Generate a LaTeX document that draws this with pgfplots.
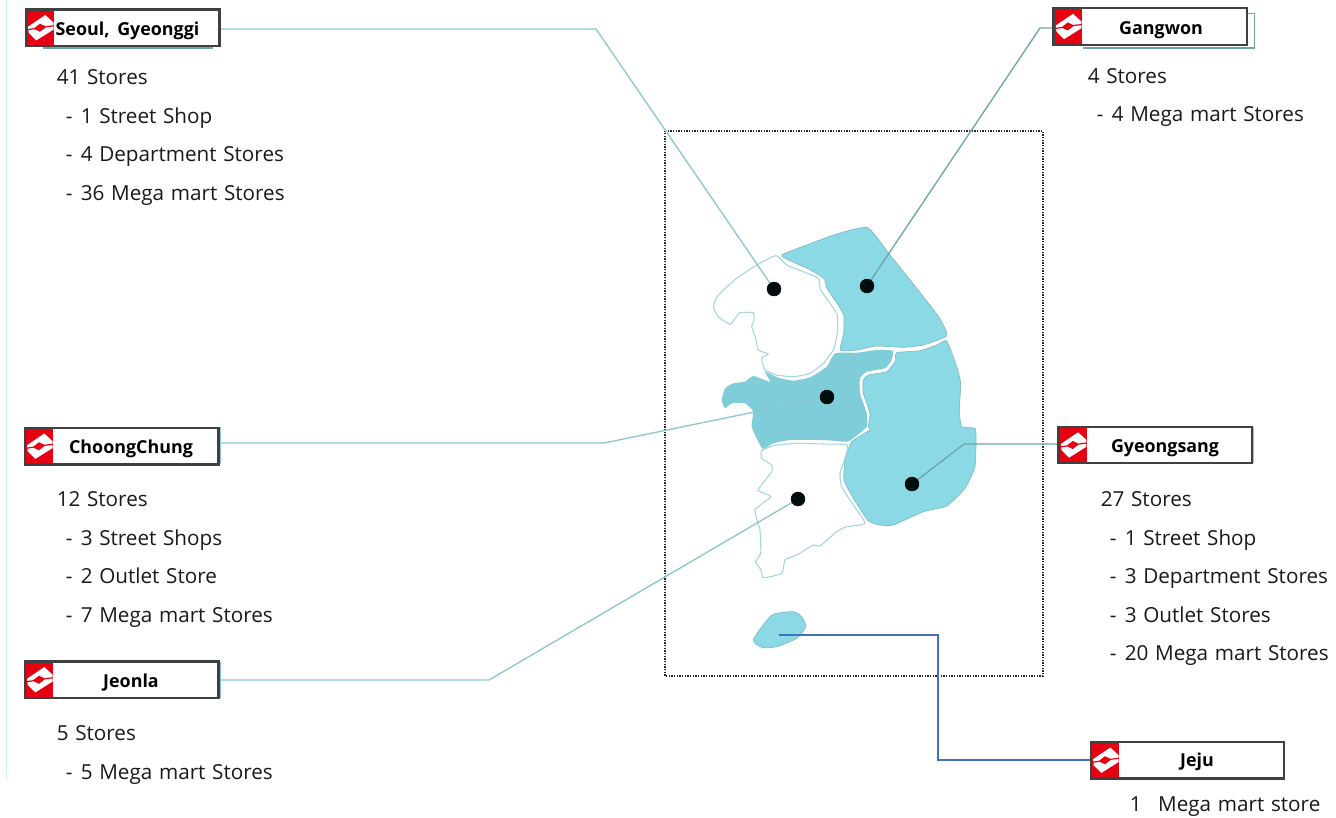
\documentclass[border=0pt]{standalone}
\usepackage{pgfplots}
\pgfplotsset{compat=1.18}
\usepackage{fontspec}
\setmainfont[WordSpace=1.25]{Open Sans}
\definecolor{teal1}{HTML}{8CD9E6}
\definecolor{teal2}{HTML}{80CDDA}
\definecolor{edge}{HTML}{7DBAC6}
\definecolor{edgew}{HTML}{A4D6DE}
\definecolor{leader}{HTML}{8CC6D0}
\definecolor{leader2}{HTML}{6FA5AD}
\definecolor{boxedge}{HTML}{404040}
\definecolor{lotred}{HTML}{E60012}
\newcommand{\btxt}[3]{\node[anchor=base west,inner sep=0pt,font=\fontsize{15.5pt}{18pt}\selectfont,text=black!90] at (#1,#2) {#3};}
\newcommand{\subtxt}[3]{\node[anchor=base west,inner sep=0pt,font=\fontsize{15.5pt}{18pt}\selectfont,text=black!90] at (#1,#2) {-};\node[anchor=base west,inner sep=0pt,font=\fontsize{15.5pt}{18pt}\selectfont,text=black!90] at (#1+15,#2) {#3};}
\newcommand{\labelbox}[6]{% left top right bottom redright
\fill[white] (#1,#2) rectangle (#3,#4);
\fill[lotred] (#1,#2) rectangle (#5,#4);
\draw[boxedge,line width=1.7pt] (#1,#2) rectangle (#3,#4);
\begin{scope}[shift={({(#1+#5)/2},{(#2+#4)/2})}]
\fill[white] (-12,-1) -- (5.3,-12.7) -- (13.7,-5) -- (13.7,1.7) -- (-3.7,12.7) -- (-11.3,5) -- cycle;
\fill[lotred] (-6.5,1) -- (0,-4) -- (6.5,-1) -- (0,4) -- cycle;
\draw[lotred,line width=0.9pt] (-12.5,2) -- (-6,1);
\draw[lotred,line width=0.9pt] (14,-2) -- (6,-1);
\end{scope}
\node[font=\fontsize{13.4pt}{16pt}\selectfont\bfseries,anchor=base,inner sep=0pt] at (#6) {\labeltext};}
\begin{document}
\begin{tikzpicture}
\begin{axis}[
  at={(0,0)},anchor=south west,
  scale only axis,width=1002pt,height=612.75pt,
  xmin=0,xmax=1336,ymin=0,ymax=817,y dir=reverse,
  axis lines=none,clip=true]
\addplot[draw=none,fill=white] coordinates {(0,0)(1336,0)(1336,817)(0,817)} -- cycle;
% left rule
\addplot[color=cyan!20,line width=0.9pt] coordinates {(6.5,0)(6.5,780)};
% frame
\addplot[black!85,line width=0.8pt,dash pattern=on 0.9pt off 1.1pt] coordinates {(665,131)(1043,131)(1043,676)(665,676)(665,131)};
% Gangwon
\addplot[draw=edge,fill=teal1,line width=0.5pt,smooth cycle,tension=0.3] coordinates {
(781.7,255)(806.7,245)(836.7,234)(867.7,227.7)(890,255)(916.7,288.3)(935,311.7)(941.7,321.7)(946.7,336)
(923.3,345)(903.3,347.3)(876.7,346)(856.7,350)(840.3,350)(843.7,333.3)(843.7,315)(837,303.3)(827,288.3)(823.7,278.3)(808.7,269)(790,260.7)};
% Seoul, Gyeonggi
\addplot[draw=edgew,fill=white,line width=0.8pt,smooth cycle,tension=0.3] coordinates {
(776,255.7)(756.7,265)(736.7,278.3)(718.3,295)(713.3,306.7)(718.3,316.7)(730,324.3)(735,318.3)(740,312.7)(753.3,312.7)(754,320)(751.7,326.7)(755.7,338.3)(758.3,350)(768.3,354)(761.7,358.3)(765,370)(776.7,375)(793.3,376.7)(810,373.3)(823.3,363.3)(833.3,350)(837.3,333.3)(837.3,315)(830,303.3)(820.7,290)(818.3,278.3)(803.3,271.7)(786.7,265)};
% ChoongChung
\addplot[draw=none,fill=teal2,smooth cycle,tension=0.3] coordinates {
(835,353.3)(856.7,352.7)(876.7,350)(892.7,350.7)(891.7,360)(885,368.3)(866.7,371.7)(860,378.3)(860,393.3)(866.7,413.3)(866.7,426.7)(853.3,438.3)(846.7,441.7)(823.3,440)(790,440)(773.3,443.3)(762.3,448.7)(751.7,426.7)(753.3,411.7)(745,403.3)(731.7,403.3)(725,408.3)(721.7,400)(725,388.3)(733.3,383.3)(745,381.7)(753.3,376)(770,381.7)(765,371.7)(778.3,377.7)(793.3,380.7)(810,377.3)(826.7,366.7)};
% Gyeongsang
\addplot[draw=edge,fill=teal1,line width=0.5pt,smooth cycle,tension=0.3] coordinates {
(946.7,341)(956.7,366.7)(960.7,383.3)(959.3,410)(961.7,426.7)(975,428.3)(976,440)(975,466.7)(965,488.3)(946.7,506)(923.3,511.7)(893.3,525)(880,525)(868.3,520.7)(853.3,498.3)(844,480)(845,460)(851.7,441.7)(870,430)(868.3,426.7)(870,413.3)(863.3,393.3)(863.3,380)(868.3,375)(886.7,371.7)(895,361.7)(896.7,352.7)(920,350.7)(936.7,345)};
% Jeonla
\addplot[draw=edgew,fill=white,line width=0.8pt,smooth cycle,tension=0.3] coordinates {
(761.7,450.7)(773.3,445.7)(796.7,443.3)(823.3,444)(847.3,445)(845,458.3)(840,473.3)(841.7,486.7)(853.3,505)(865,523.3)(846.7,526.7)(836.7,531.7)(820,546)(813.3,545)(796.7,555)(785,560)(781.7,573.3)(763.3,577.7)(761,570)(755.7,561.7)(760.7,553.3)(760,530)(755,510)(770.7,496.7)(758.3,490)(771.7,471.7)(771.7,465)(761.7,458.3)};
% Jeju
\addplot[draw=edge,fill=teal1,line width=0.5pt,smooth cycle,tension=0.4] coordinates {
(753.3,640)(763.3,625)(773.3,614.3)(793.3,611.7)(801.7,616.7)(805.7,626.7)(796.7,638.3)(776.7,646.7)(761.7,647.3)};
% markers
\addplot[only marks,mark=*,mark size=5.2pt,mark options={draw=none,fill=black!90!teal}] coordinates {(774,289)(867,286)(827,397)(798,499)(912,484)};
% leaders
\addplot[leader,line width=1pt] coordinates {(220,29)(596,29)(774,289)};
\addplot[leader2,line width=1pt] coordinates {(1053,28)(1040,28)(867,286)};
\addplot[leader,line width=1pt] coordinates {(219,443)(604,443)(827,397)};
\addplot[leader,line width=1pt] coordinates {(219,680)(489,680)(798,499)};
\addplot[leader2,line width=1pt] coordinates {(1058,444)(964,444)(912,484)};
\addplot[color={rgb,255:red,68;green,114;blue,184},line width=1.4pt] coordinates {(779,635)(938,635)(938,760)(1090,760)};
\end{axis}
\begin{scope}[x=0.75pt,y=-0.75pt,shift={(0pt,612.75pt)}]
% shadows
\draw[leader2,line width=0.8pt] (43,48) -- (213,48);
\draw[leader2,line width=0.8pt] (1083,48) -- (1254,48) -- (1254,13.5) -- (1247,13.5);
\draw[leader,line width=0.8pt] (220.5,426.5) -- (220.5,464);
\draw[leader,line width=0.8pt] (1253.5,426.5) -- (1253.5,462.5);
\draw[leader,line width=0.8pt] (220,662) -- (220,698);
\def\labeltext{Seoul,\hspace{1.5pt} Gyeonggi}\labelbox{26}{9.5}{219.5}{46}{54}{127.5,36}
\def\labeltext{Gangwon}\labelbox{1053.5}{8}{1247}{45}{1082}{1161,35}
\def\labeltext{ChoongChung}\labelbox{25}{428}{218.5}{464.5}{53}{131,453}
\def\labeltext{Gyeongsang}\labelbox{1058.5}{427}{1252}{463}{1087}{1165,452}
\def\labeltext{Jeonla}\labelbox{25}{661.5}{218.5}{698}{53}{131,687}
\def\labeltext{Jeju}\labelbox{1091}{742}{1284}{778.5}{1119}{1197,766}
\btxt{56.5}{84.5}{41 Stores}
\subtxt{65.5}{123.5}{1 Street Shop}
\subtxt{65.5}{161.5}{4 Department Stores}
\subtxt{65.5}{200.5}{36 Mega mart Stores}
\btxt{1087.5}{83.5}{4 Stores}
\subtxt{1096.5}{121.5}{4 Mega mart Stores}
\btxt{56.5}{506}{12 Stores}
\subtxt{65.5}{545}{3 Street Shops}
\subtxt{65.5}{583}{2 Outlet Store}
\subtxt{65.5}{622}{7 Mega mart Stores}
\btxt{1100.5}{506}{27 Stores}
\subtxt{1109.5}{545}{1 Street Shop}
\subtxt{1109.5}{583}{3 Department Stores}
\subtxt{1109.5}{622}{3 Outlet Stores}
\subtxt{1109.5}{660}{20 Mega mart Stores}
\btxt{56.5}{740}{5 Stores}
\subtxt{65.5}{779}{5 Mega mart Stores}
\btxt{1129.5}{811}{1\hspace{0.8em}Mega mart store}
\end{scope}
\end{tikzpicture}
\end{document}
